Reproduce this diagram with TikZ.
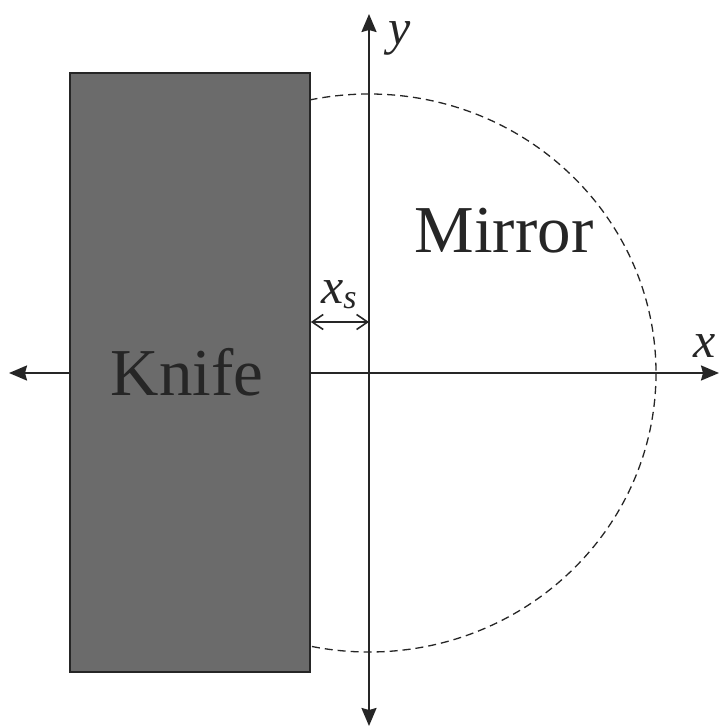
\documentclass[tikz,border=0pt]{standalone}
\usepackage{fontspec}
\setmainfont{Liberation Serif}
\usetikzlibrary{arrows.meta}
\definecolor{ink}{HTML}{262626}
\definecolor{knifegray}{HTML}{6B6B6B}
\tikzset{
  axis/.style={draw=ink, line width=2.2pt, -{Stealth[length=18pt,width=15pt,inset=2pt]}},
  knifebox/.style={draw=ink, fill=knifegray, line width=1.6pt},
  mirrorline/.style={draw=ink, line width=1.3pt, dash pattern=on 8pt off 5pt},
  gap/.style={draw=ink, line width=1.6pt, {Straight Barb[length=11pt,width=15pt]}-{Straight Barb[length=11pt,width=15pt]}},
  bigtext/.style={text=ink, inner sep=0pt, font=\fontsize{67}{70}\selectfont},
  axlabel/.style={text=ink, inner sep=0pt, font=\fontsize{50}{54}\selectfont\itshape},
}
\begin{document}
\begin{tikzpicture}[x=1pt,y=-1pt]
\useasboundingbox (0,0) rectangle (718,727);
\coordinate (O) at (369,373);
\coordinate (xl) at (9,373);
\coordinate (xr) at (719,373);
\coordinate (yt) at (369,14);
\coordinate (yb) at (369,726);
% mirror outline
\draw[mirrorline] (O) ellipse [x radius=287, y radius=279];
% axes
\draw[axis] (O) -- (xl);
\draw[axis] (O) -- (xr);
\draw[axis] (O) -- (yt);
\draw[axis] (O) -- (yb);
% knife
\node[knifebox, minimum width=240pt, minimum height=599pt, inner sep=0pt] (knife) at (190,372.5) {};
\node[bigtext, anchor=base] (kt) at (187,395) {Knife};
\node[bigtext, anchor=base] (mt) at (504,252) {Mirror};
% gap
\coordinate (ga) at (knife.east |- 0,322);
\coordinate (gb) at (369,322);
\draw[gap] (ga) -- (gb);
\node[axlabel, anchor=base] (xs) at (339,303) {x\raisebox{-5pt}{\fontsize{34}{36}\selectfont s}};
\node[axlabel, anchor=base] (yl) at (400,45) {y};
\node[axlabel, anchor=base] (xlab) at (705,357) {x};
\end{tikzpicture}
\end{document}
